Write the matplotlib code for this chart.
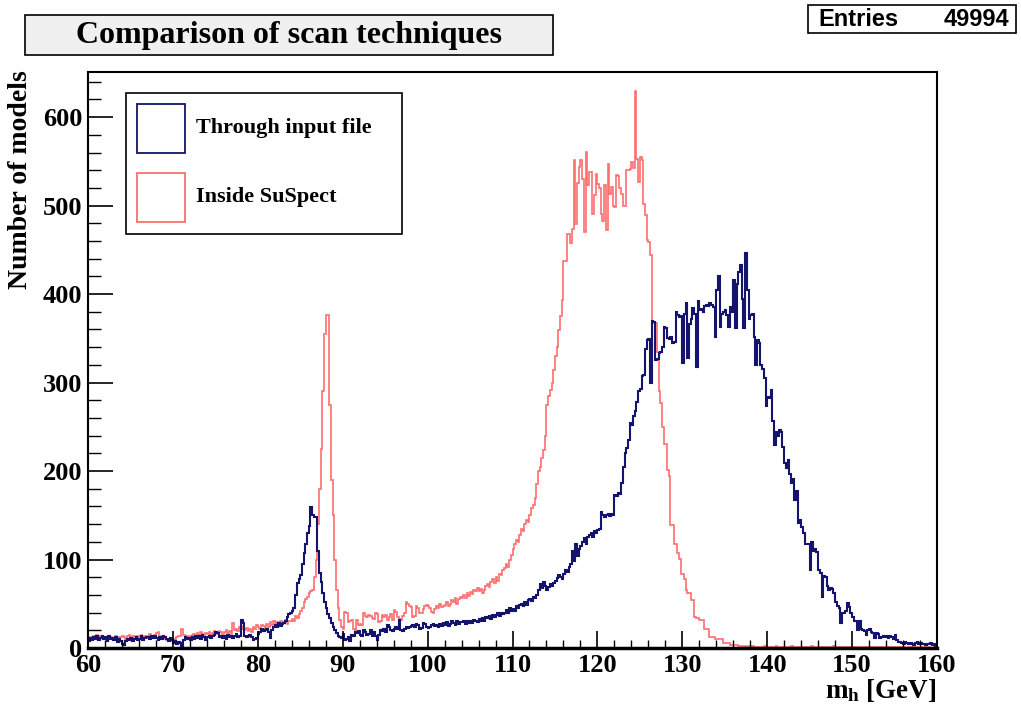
import numpy as np
import matplotlib
matplotlib.use('Agg')
import matplotlib.pyplot as plt
from matplotlib.patches import Rectangle
from matplotlib.ticker import MultipleLocator

plt.rcParams['font.family'] = 'Liberation Serif'
plt.rcParams['font.weight'] = 'bold'
plt.rcParams['mathtext.fontset'] = 'custom'
plt.rcParams['mathtext.rm'] = 'Liberation Serif:bold'
plt.rcParams['mathtext.bf'] = 'Liberation Serif:bold'
plt.rcParams['mathtext.it'] = 'Liberation Serif:bold'

# histogram binning: 60-160 GeV, 0.2 GeV bins
x_min, x_max, n_bins = 60, 160, 500
entries = 49994

# Through input file (one row = 2 GeV = 10 bins)
through_input = [
    8, 11, 9, 12, 10, 13, 9, 11, 14, 10,            # 60
    12, 8, 13, 10, 11, 9, 12, 7, 10, 8,             # 62
    5, 3, 8, 10, 9, 11, 8, 10, 12, 9,               # 64
    10, 13, 9, 11, 12, 12, 10, 14, 11, 13,          # 66
    11, 9, 12, 10, 13, 12, 10, 8, 11, 9,            # 68
    6, 8, 5, 7, 6, 2, 9, 12, 10, 11,                # 70
    9, 12, 10, 14, 11, 13, 10, 15, 12, 9,           # 72
    12, 14, 11, 13, 15, 18, 17, 12, 14, 11,         # 74
    13, 10, 15, 12, 14, 11, 13, 16, 12, 14,         # 76
    32, 28, 14, 12, 13, 15, 12, 9, 10, 11,          # 78
    16, 18, 22, 19, 20, 21, 18, 11, 20, 24,         # 80
    26, 24, 28, 25, 27, 28, 30, 35, 38, 40,         # 82
    42, 45, 60, 73, 78, 82, 95, 107, 118, 130,      # 84
    138, 159, 150, 148, 148, 110, 85, 75, 62, 52,   # 86
    45, 38, 34, 28, 24, 20, 17, 14, 12, 11,         # 88
    16, 9, 10, 12, 8, 15, 14, 18, 17, 19,           # 90
    15, 14, 20, 18, 15, 16, 20, 14, 18, 13,         # 92
    9, 15, 20, 19, 21, 18, 26, 24, 20, 19,          # 94
    21, 24, 22, 32, 20, 19, 21, 24, 23, 24,         # 96
    25, 26, 24, 27, 26, 22, 23, 28, 27, 24,         # 98
    23, 24, 26, 27, 25, 26, 24, 27, 25, 28,         # 100
    26, 29, 25, 27, 30, 28, 26, 30, 27, 29,         # 102
    29, 31, 27, 30, 28, 30, 28, 32, 31, 29,         # 104
    33, 30, 34, 31, 35, 34, 36, 33, 37, 35,         # 106
    37, 39, 36, 40, 38, 40, 43, 39, 45, 42,         # 108
    44, 42, 47, 45, 49, 50, 47, 52, 49, 54,         # 110
    55, 53, 58, 56, 60, 66, 72, 68, 75, 70,         # 112
    66, 69, 72, 70, 74, 76, 79, 82, 80, 78,         # 114
    84, 88, 86, 92, 95, 110, 98, 118, 104, 112,     # 116
    115, 120, 124, 118, 126, 128, 130, 126, 132, 130,   # 118
    133, 135, 154, 150, 148, 150, 152, 149, 151, 150,   # 120
    173, 172, 175, 174, 186, 205, 220, 226, 235, 254,   # 122
    252, 262, 268, 278, 291, 293, 307, 308, 338, 348,   # 124
    349, 300, 370, 368, 325, 327, 333, 335, 340, 363,   # 126
    362, 350, 349, 352, 345, 346, 380, 376, 374, 375,   # 128
    322, 378, 390, 328, 366, 372, 384, 378, 318, 392,   # 130
    382, 383, 380, 386, 388, 386, 390, 388, 385, 352,   # 132
    405, 421, 363, 378, 380, 382, 376, 363, 385, 380,   # 134
    416, 362, 411, 425, 433, 395, 362, 446, 405, 372,   # 136
    376, 378, 352, 320, 348, 345, 320, 315, 305, 274,   # 138
    284, 282, 292, 256, 229, 244, 240, 246, 244, 227,   # 140
    209, 203, 212, 197, 187, 191, 167, 178, 141, 145,   # 142
    137, 130, 118, 118, 118, 88, 120, 110, 112, 108,    # 144
    88, 85, 58, 81, 80, 70, 66, 68, 67, 62,         # 146
    52, 48, 45, 28, 39, 39, 42, 51, 46, 39,         # 148
    35, 31, 30, 20, 31, 22, 20, 19, 15, 20,         # 150
    21, 18, 17, 11, 17, 16, 11, 12, 13, 12,         # 152
    13, 11, 14, 12, 10, 15, 9, 7, 7, 6,             # 154
    5, 7, 6, 4, 6, 5, 3, 6, 7, 4,                   # 156
    6, 4, 5, 3, 5, 4, 6, 3, 5, 2,                   # 158
]

# Inside SuSpect
inside_suspect = [
    10, 12, 11, 14, 13, 15, 12, 13, 11, 12,         # 60
    12, 9, 13, 12, 10, 11, 13, 12, 9, 12,           # 62
    14, 12, 10, 13, 15, 11, 13, 12, 14, 12,         # 64
    13, 15, 12, 14, 11, 13, 16, 14, 12, 15,         # 66
    17, 18, 14, 12, 10, 11, 9, 10, 8, 11,           # 68
    10, 9, 12, 14, 13, 22, 15, 13, 14, 12,          # 70
    13, 15, 16, 14, 17, 15, 18, 16, 14, 17,         # 72
    16, 18, 15, 17, 19, 17, 16, 19, 18, 15,         # 74
    18, 20, 17, 19, 16, 28, 20, 22, 19, 24,         # 76
    21, 25, 20, 23, 19, 22, 18, 24, 21, 26,         # 78
    24, 22, 26, 25, 23, 27, 24, 29, 26, 30,         # 80
    27, 29, 25, 30, 28, 29, 32, 27, 31, 30,         # 82
    33, 31, 36, 34, 38, 42, 45, 52, 55, 58,         # 84
    62, 64, 65, 80, 100, 140, 180, 225, 290, 355,   # 86
    376, 376, 275, 190, 150, 100, 65, 45, 32, 24,   # 88
    22, 41, 40, 29, 31, 32, 21, 20, 32, 26,         # 90
    27, 26, 39, 36, 35, 37, 36, 34, 33, 39,         # 92
    38, 29, 30, 37, 35, 37, 32, 35, 38, 32,         # 94
    43, 41, 35, 33, 32, 36, 39, 52, 50, 47,         # 96
    46, 35, 36, 47, 45, 40, 39, 44, 48, 49,         # 98
    48, 45, 41, 39, 44, 47, 45, 50, 46, 48,         # 100
    49, 52, 47, 50, 54, 52, 56, 50, 55, 58,         # 102
    56, 60, 57, 62, 59, 63, 61, 66, 64, 68,         # 104
    64, 67, 62, 66, 70, 72, 69, 75, 78, 74,         # 106
    80, 76, 84, 82, 88, 90, 95, 92, 100, 105,       # 108
    112, 118, 122, 120, 128, 135, 132, 140, 145, 142,   # 110
    150, 158, 162, 170, 185, 200, 205, 215, 224, 240,   # 112
    275, 285, 292, 300, 314, 330, 340, 359, 375, 393,   # 114
    437, 437, 468, 468, 458, 474, 551, 479, 525, 544,   # 116
    551, 530, 470, 561, 523, 538, 538, 491, 512, 536,   # 118
    524, 520, 491, 483, 523, 472, 547, 513, 521, 500,   # 120
    498, 535, 534, 520, 513, 500, 500, 540, 540, 541,   # 122
    549, 543, 629, 553, 527, 555, 551, 502, 489, 461,   # 124
    459, 444, 367, 367, 367, 335, 291, 277, 250, 231,   # 126
    231, 201, 194, 139, 139, 118, 118, 107, 101, 84,    # 128
    84, 78, 65, 62, 62, 54, 54, 35, 34, 34,         # 130
    32, 32, 32, 22, 22, 22, 12, 12, 12, 10,         # 132
    10, 10, 10, 10, 6, 6, 6, 6, 3, 3,               # 134
    3, 3, 3, 2, 2, 2, 1, 2, 1, 2,                   # 136
    1, 2, 1, 1, 1, 1, 0, 1, 2, 1,                   # 138
    1, 1, 0, 1, 1, 2, 1, 0, 1, 1,                   # 140
    1, 0, 1, 1, 2, 1, 1, 0, 1, 1,                   # 142
    0, 1, 1, 1, 0, 1, 2, 1, 1, 0,                   # 144
    1, 1, 0, 1, 1, 1, 0, 1, 1, 2,                   # 146
    1, 0, 1, 1, 1, 0, 1, 1, 0, 1,                   # 148
    1, 1, 0, 1, 0, 1, 1, 1, 0, 1,                   # 150
    0, 1, 1, 0, 1, 1, 0, 1, 1, 0,                   # 152
    1, 0, 1, 1, 0, 1, 0, 1, 0, 1,                   # 154
    1, 0, 0, 1, 1, 0, 1, 0, 1, 0,                   # 156
    0, 1, 0, 1, 0, 1, 0, 0, 1, 0,                   # 158
]

blue = '#14146e'
red = '#ff6e6e'

W, H = 1021, 711
fig = plt.figure(figsize=(W / 100, H / 100), dpi=100)


def fx(px):
    return px / W


def fy(py):
    return 1 - py / H


ax = fig.add_axes([fx(88), fy(648), fx(937) - fx(88), fy(72) - fy(648)])

edges = np.linspace(x_min, x_max, n_bins + 1)
ax.stairs(inside_suspect, edges, color=red, lw=1.2, baseline=None)
ax.stairs(through_input, edges, color=blue, lw=1.5, baseline=None)

ax.set_xlim(x_min, x_max)
ax.set_ylim(0, 651)
ax.xaxis.set_major_locator(MultipleLocator(10))
ax.xaxis.set_minor_locator(MultipleLocator(2))
ax.yaxis.set_major_locator(MultipleLocator(100))
ax.yaxis.set_minor_locator(MultipleLocator(20))
ax.tick_params(axis='x', which='major', direction='in', length=12, width=1.2,
               labelsize=19, pad=4)
ax.tick_params(axis='x', which='minor', direction='in', length=6, width=1.0)
ax.tick_params(axis='y', which='major', direction='in', length=18, width=1.2,
               labelsize=19, pad=4)
ax.tick_params(axis='y', which='minor', direction='in', length=9, width=1.0)
for lab in ax.get_xticklabels() + ax.get_yticklabels():
    lab.set_fontweight('bold')
for side in ['top', 'right', 'left']:
    ax.spines[side].set_linewidth(1.5)
ax.spines['bottom'].set_linewidth(2.5)

# axis titles
fig.text(fx(937), fy(691), r'$\mathbf{m_h}$ [GeV]', ha='right', va='center',
         fontsize=19.5, fontweight='bold')
fig.text(fx(21), fy(180), 'Number of models', rotation=90, ha='center',
         va='center', fontsize=20, fontweight='bold')

# title box
fig.patches.append(Rectangle((fx(25), fy(55)), fx(553) - fx(25), fy(15) - fy(55),
                             transform=fig.transFigure, facecolor='#f0f0f0',
                             edgecolor='black', lw=1.2))
fig.text(fx(289), fy(35), 'Comparison of scan techniques', ha='center',
         va='center', fontsize=23, fontweight='bold')

# stats box
fig.patches.append(Rectangle((fx(808), fy(33)), fx(1016) - fx(808), fy(5) - fy(33),
                             transform=fig.transFigure, facecolor='white',
                             edgecolor='black', lw=1.2))
fig.text(fx(818), fy(19), 'Entries', ha='left', va='center', fontsize=17,
         fontweight='bold', family='Liberation Sans')
fig.text(fx(1009), fy(19), str(entries), ha='right', va='center', fontsize=17,
         fontweight='bold', family='Liberation Sans')

# legend
fig.patches.append(Rectangle((fx(126), fy(234)), fx(402) - fx(126), fy(93) - fy(234),
                             transform=fig.transFigure, facecolor='white',
                             edgecolor='black', lw=1.2))
for top, col, name in [(104, blue, 'Through input file'),
                       (173, red, 'Inside SuSpect')]:
    fig.patches.append(Rectangle((fx(137), fy(top + 49)), fx(185) - fx(137),
                                 fy(top) - fy(top + 49), transform=fig.transFigure,
                                 facecolor='none', edgecolor=col, lw=1.3))
    fig.text(fx(196), fy(top + 24), name, ha='left', va='center', fontsize=16,
             fontweight='bold')

fig.savefig('out.png', dpi=100)
